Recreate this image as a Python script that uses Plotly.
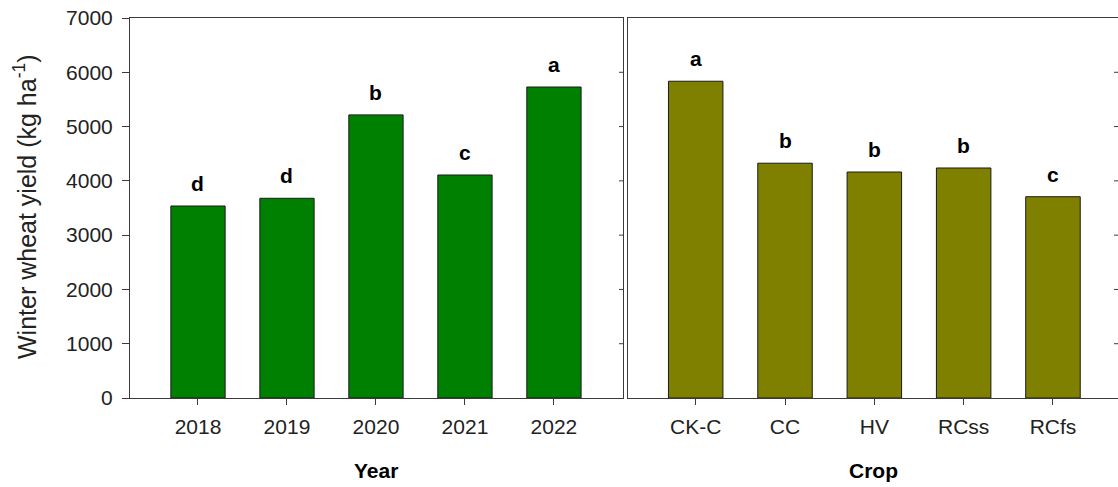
import plotly.graph_objects as go

years = ["2018", "2019", "2020", "2021", "2022"]
year_yield = [3537, 3679, 5215, 4108, 5729]
year_letters = ["d", "d", "b", "c", "a"]

crops = ["CK-C", "CC", "HV", "RCss", "RCfs"]
crop_yield = [5835, 4325, 4163, 4237, 3708]
crop_letters = ["a", "b", "b", "b", "c"]

y_ticks = [0, 1000, 2000, 3000, 4000, 5000, 6000, 7000]

W, H = 1118, 487
FONT = "Arial, 'Liberation Sans', Helvetica, sans-serif"
LINE = "#3a3a3a"

def px_x(p):
    return p / W

def px_y(p):
    return 1 - p / H

fig = go.Figure()
fig.add_trace(go.Bar(x=years, y=year_yield, marker=dict(color="#008000", line=dict(color="#1a1a1a", width=1)),
                     width=0.61, xaxis="x", yaxis="y", showlegend=False))
fig.add_trace(go.Bar(x=crops, y=crop_yield, marker=dict(color="#808000", line=dict(color="#1a1a1a", width=1)),
                     width=0.61, xaxis="x2", yaxis="y2", showlegend=False))

ann = []
for i, (v, l) in enumerate(zip(year_yield, year_letters)):
    ann.append(dict(x=i, y=v, xref="x", yref="y", text=l, showarrow=False, yanchor="bottom",
                    yshift=9, font=dict(family=FONT, size=21, color="black", weight="bold")))
for i, (v, l) in enumerate(zip(crop_yield, crop_letters)):
    ann.append(dict(x=i, y=v, xref="x2", yref="y2", text=l, showarrow=False, yanchor="bottom",
                    yshift=9, font=dict(family=FONT, size=21, color="black", weight="bold")))
ann.append(dict(x=px_x(376), y=px_y(470), xref="paper", yref="paper", text="Year", showarrow=False,
                xanchor="center", yanchor="middle", font=dict(family=FONT, size=21, color="black", weight="bold")))
ann.append(dict(x=px_x(873), y=px_y(470), xref="paper", yref="paper", text="Crop", showarrow=False,
                xanchor="center", yanchor="middle", font=dict(family=FONT, size=21, color="black", weight="bold")))
ann.append(dict(x=px_x(25), y=px_y(207), xref="paper", yref="paper",
                text="Winter wheat yield (kg ha<sup>-1</sup>)", textangle=-90, showarrow=False,
                xanchor="center", yanchor="middle", font=dict(family=FONT, size=25, color="#222")))

# inside tick marks on the right border of each panel
shapes = []
for dom_ref, yref, w in (("x domain", "y", 493), ("x2 domain", "y2", 490)):
    for v in y_ticks[1:-1]:
        shapes.append(dict(type="line", xref=dom_ref, yref=yref, x0=1, x1=1 - 4 / w, y0=v, y1=v,
                           line=dict(color=LINE, width=1)))

xdom1 = [px_x(130), px_x(623)]
xdom2 = [px_x(628), 1.0]
ydom = [px_y(398), px_y(18)]

common_x = dict(type="category", showline=True, linecolor=LINE, linewidth=1, mirror=True,
                ticks="outside", ticklen=6, tickcolor=LINE, showgrid=False, zeroline=False,
                automargin=False, ticklabelstandoff=4, tickfont=dict(family=FONT, size=21, color="#222"))
fig.update_layout(
    width=W, height=H, margin=dict(l=0, r=0, t=0, b=0, autoexpand=False),
    paper_bgcolor="white", plot_bgcolor="white",
    xaxis=dict(domain=xdom1, anchor="y", range=[-0.764, 4.776], **common_x),
    xaxis2=dict(domain=xdom2, anchor="y2", range=[-0.758, 4.728], **common_x),
    yaxis=dict(domain=ydom, anchor="x", range=[0, 7000], tickvals=y_ticks, showline=True, linecolor=LINE,
               linewidth=1, mirror=True, ticks="outside", ticklen=7, tickcolor=LINE, showgrid=False,
               zeroline=False, automargin=False, ticklabelstandoff=5,
               tickfont=dict(family=FONT, size=21, color="#222")),
    yaxis2=dict(domain=ydom, anchor="x2", range=[0, 7000], tickvals=y_ticks, showline=True, linecolor=LINE,
                linewidth=1, mirror=False, ticks="", showticklabels=False, showgrid=False, zeroline=False,
                automargin=False),
    annotations=ann,
    shapes=shapes,
)

fig.write_html("out.html")
